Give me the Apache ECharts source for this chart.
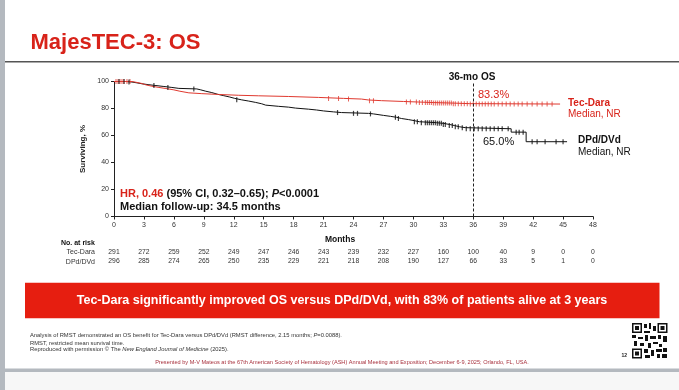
<!DOCTYPE html>
<html><head><meta charset="utf-8">
<script src="https://cdn.jsdelivr.net/npm/echarts@6/dist/echarts.min.js"></script>
<style>html,body{margin:0;padding:0;background:#fff}#c{width:679px;height:390px}</style>
</head><body><div id="c"></div>
<script>
// ---- data ----
const xTicks = [0,3,6,9,12,15,18,21,24,27,30,33,36,39,42,45,48];
const yTicks = [0,20,40,60,80,100];
const riskTecDara = [291,272,259,252,249,247,246,243,239,232,227,160,100,40,9,0,0];
const riskDPd = [296,285,274,265,250,235,229,221,218,208,190,127,66,33,5,1,0];
// KM step points [month, % surviving]
const kmTecDara = [[0,100],[1.8,99.3],[2.3,98.5],[2.8,97.5],[3.2,96.5],[3.8,95.6],[4.5,94.8],[5.2,93.8],[6,92.8],[6.6,91.6],[7.5,91.0],[8.8,90.4],[10.5,89.8],[12.5,89.4],[14.5,88.9],[17.5,88.2],[20.5,87.5],[23,87.0],[24.8,86.3],[25.5,85.8],[26.8,85.2],[29,84.8],[30.5,84.4],[32,84.0],[34,83.6],[35.6,83.3],[44.7,83.3]];
const kmDPd = [[0,100],[1.2,99.6],[1.8,99.0],[2.3,98.3],[2.8,97.6],[3.5,97.0],[4.2,96.3],[5,95.6],[5.8,94.9],[6.5,94.5],[8.3,93.8],[8.7,92.8],[9.2,91.8],[9.8,90.5],[10.4,89.5],[11,88.5],[11.6,87.5],[12.1,86.4],[12.8,85.5],[13.5,84.5],[14.2,83.5],[14.8,82.5],[15.2,81.6],[16.5,81.0],[17.5,80.3],[18.2,79.5],[19.5,78.9],[20.3,78.2],[21,77.5],[22,77.0],[22.8,76.4],[25.5,76.0],[26,74.9],[27,74.2],[27.7,73.5],[28.3,72.6],[28.8,71.8],[29.5,71.0],[30.1,70.2],[30.6,69.5],[32.3,69.0],[33.0,68.2],[33.6,67.4],[34.1,66.5],[34.6,65.8],[35.2,65.0],[39.8,62.5],[41.3,55.4],[45.4,55.4]];
// censoring times (months)
const censorTecDara = [0.2,0.4,0.6,0.8,1.0,1.3,1.6,21.5,22.5,23.5,25.6,26.0,29.3,29.7,30.3,30.6,30.9,31.2,31.4,31.6,31.8,32.0,32.2,32.4,32.6,32.8,33.0,33.2,33.4,33.6,33.8,34.0,34.2,34.5,34.8,35.1,35.4,35.7,36.0,36.3,36.6,36.9,37.2,37.5,37.8,38.1,38.5,38.9,39.3,39.7,40.1,40.5,40.9,41.4,41.9,42.4,42.9,43.4,43.9];
const censorDPd = [0.5,1.0,1.5,4.0,5.4,8.0,12.3,22.4,24.0,24.4,25.7,28.2,28.5,30.1,30.4,30.8,31.2,31.4,31.6,31.8,32.0,32.2,32.4,32.6,32.8,33.0,33.2,33.6,33.9,34.2,34.5,34.9,35.3,35.7,36.1,36.5,36.9,37.3,37.7,38.1,38.5,38.9,39.5,40.3,40.6,41.0,41.9,42.4,43.2,44.3,45.0];

// ---- helpers ----
function survAt(curve, t){ let v = curve[0][1]; for (const p of curve){ if (p[0] <= t) v = p[1]; } return v; }
const F = 'Liberation Sans, Arial, sans-serif';
const RED = '#d8231a', LINE_RED = '#e0392f', BLACK = '#111';

const chart = echarts.init(document.getElementById('c'), null, {renderer:'canvas'});
function riskAxis(arr, offset){
  return {type:'value', gridIndex:0, position:'bottom', offset:offset, min:0, max:48, interval:3,
    axisLine:{show:false}, axisTick:{show:false}, splitLine:{show:false},
    axisLabel:{margin:0, fontSize:6.8, color:'#333', fontFamily:F, formatter:v=>String(arr[Math.round(v/3)])}};
}
const option = {
  animation:false,
  backgroundColor:'#ffffff',
  grid:{left:114, right:86, top:81.5, bottom:173.5},
  xAxis:[
    {type:'value', min:0, max:48, interval:3,
     axisLine:{show:true, lineStyle:{color:'#222', width:1}},
     axisTick:{show:true, length:3, lineStyle:{color:'#222'}},
     splitLine:{show:false},
     axisLabel:{margin:5, fontSize:7, color:'#333', fontFamily:F}},
    riskAxis(riskTecDara, 32),
    riskAxis(riskDPd, 41.5)
  ],
  yAxis:{type:'value', min:0, max:100, interval:20,
     axisLine:{show:true, lineStyle:{color:'#222', width:1}},
     axisTick:{show:true, length:3, lineStyle:{color:'#222'}},
     splitLine:{show:false},
     axisLabel:{margin:5, fontSize:7, color:'#333', fontFamily:F},
     name:'Surviving, %', nameLocation:'middle', nameGap:22, nameRotate:90,
     nameTextStyle:{fontSize:8, fontWeight:'bold', color:'#222', fontFamily:F}},
  series:[
    {type:'line', step:'end', data:kmTecDara, showSymbol:false, symbol:'none',
     lineStyle:{color:LINE_RED, width:1}, z:3,
     markLine:{silent:true, symbol:['none','none'], label:{show:false},
       lineStyle:{type:[3,2], color:'#222', width:1}, data:[{xAxis:36}]}},
    {type:'line', step:'end', data:kmDPd, showSymbol:false, symbol:'none',
     lineStyle:{color:BLACK, width:1}, z:2},
    {type:'scatter', data:censorTecDara.map(t=>[t, survAt(kmTecDara,t)]), symbol:'rect', symbolSize:[1,5],
     itemStyle:{color:LINE_RED}, z:4},
    {type:'scatter', data:censorDPd.map(t=>[t, survAt(kmDPd,t)]), symbol:'rect', symbolSize:[1.2,5],
     itemStyle:{color:BLACK}, z:4}
  ],
  graphic:[
    // frame
    {type:'rect', shape:{x:0,y:0,width:5,height:390}, style:{fill:'#b4b9bf'}, z:100},
    {type:'rect', shape:{x:0,y:368.5,width:679,height:3.5}, style:{fill:'#b4b9bf'}, z:100},
    {type:'rect', shape:{x:5,y:372,width:674,height:18}, style:{fill:'#f7f7f7'}, z:99},
    // title
    {type:'text', x:30.5, y:43, style:{text:'MajesTEC-3: OS', fill:RED, font:'bold 22px '+F, verticalAlign:'middle'}},
    {type:'rect', shape:{x:5,y:61,width:674,height:1.6}, style:{fill:'#555'}},
    // annotations
    {type:'text', x:472, y:77, style:{text:'36-mo OS', fill:'#111', font:'bold 10px '+F, align:'center', verticalAlign:'middle'}},
    {type:'text', x:478, y:95, style:{text:'83.3%', fill:RED, font:'11px '+F, verticalAlign:'middle'}},
    {type:'text', x:483, y:141.5, style:{text:'65.0%', fill:'#111', font:'11px '+F, verticalAlign:'middle'}},
    {type:'text', x:568, y:103, style:{text:'Tec-Dara', fill:RED, font:'bold 10px '+F, verticalAlign:'middle'}},
    {type:'text', x:568, y:114.5, style:{text:'Median, NR', fill:RED, font:'10px '+F, verticalAlign:'middle'}},
    {type:'text', x:578, y:140.5, style:{text:'DPd/DVd', fill:'#111', font:'bold 10px '+F, verticalAlign:'middle'}},
    {type:'text', x:578, y:152, style:{text:'Median, NR', fill:'#111', font:'10px '+F, verticalAlign:'middle'}},
    {type:'text', x:120, y:194, style:{text:'{r|HR, 0.46} (95% CI, 0.32\u20130.65); {i|P}<0.0001',
      fill:'#111', font:'bold 11px '+F, verticalAlign:'middle',
      rich:{r:{fill:RED, font:'bold 11px '+F}, i:{fill:'#111', font:'italic bold 11px '+F}}}},
    {type:'text', x:120, y:207, style:{text:'Median follow-up: 34.5 months', fill:'#111', font:'bold 11px '+F, verticalAlign:'middle'}},
    {type:'text', x:340, y:239.5, style:{text:'Months', fill:'#111', font:'bold 8.5px '+F, align:'center', verticalAlign:'middle'}},
    // at risk table labels
    {type:'text', x:61, y:243.5, style:{text:'No. at risk', fill:'#111', font:'bold 7px '+F, verticalAlign:'middle'}},
    {type:'text', x:95, y:252.5, style:{text:'Tec-Dara', fill:'#333', font:'7px '+F, align:'right', verticalAlign:'middle'}},
    {type:'text', x:95, y:262, style:{text:'DPd/DVd', fill:'#333', font:'7px '+F, align:'right', verticalAlign:'middle'}},
    // banner
    {type:'rect', shape:{x:25,y:282.7,width:634.5,height:35.6}, style:{fill:'#e61e10'}},
    {type:'text', x:342, y:301, style:{text:'Tec-Dara significantly improved OS versus DPd/DVd, with 83% of patients alive at 3 years',
      fill:'#fff', font:'bold 12.5px '+F, align:'center', verticalAlign:'middle'}},
    // footnotes
    {type:'text', x:30, y:335.8, style:{text:'Analysis of RMST demonstrated an OS benefit for Tec-Dara versus DPd/DVd (RMST difference, 2.15 months; {i|P}=0.0088).',
      fill:'#333', font:'5.8px '+F, verticalAlign:'middle', rich:{i:{font:'italic 5.8px '+F, fill:'#333'}}}},
    {type:'text', x:30, y:343.2, style:{text:'RMST, restricted mean survival time.', fill:'#333', font:'5.8px '+F, verticalAlign:'middle'}},
    {type:'text', x:30, y:349.8, style:{text:'Reproduced with permission \u00a9 The {i|New England Journal of Medicine} (2025).',
      fill:'#333', font:'5.8px '+F, verticalAlign:'middle', rich:{i:{font:'italic 5.8px '+F, fill:'#333'}}}},
    {type:'text', x:342, y:362.7, style:{text:'Presented by M-V Mateos at the 67th American Society of Hematology (ASH) Annual Meeting and Exposition; December 6-9, 2025; Orlando, FL, USA.',
      fill:'#a8323e', font:'5.6px '+F, align:'center', verticalAlign:'middle'}},
    {type:'text', x:621.5, y:356, style:{text:'12', fill:'#222', font:'bold 5px '+F, verticalAlign:'middle'}},
    // QR-like block
    {type:'group', x:632, y:323, children:[
      {type:'rect', shape:{x:0,y:0,width:10,height:10}, style:{fill:'#111'}},
      {type:'rect', shape:{x:1.5,y:1.5,width:7,height:7}, style:{fill:'#fff'}},
      {type:'rect', shape:{x:3,y:3,width:4,height:4}, style:{fill:'#111'}},
      {type:'rect', shape:{x:25.5,y:0,width:10,height:10}, style:{fill:'#111'}},
      {type:'rect', shape:{x:27,y:1.5,width:7,height:7}, style:{fill:'#fff'}},
      {type:'rect', shape:{x:28.5,y:3,width:4,height:4}, style:{fill:'#111'}},
      {type:'rect', shape:{x:0,y:25.5,width:10,height:10}, style:{fill:'#111'}},
      {type:'rect', shape:{x:1.5,y:27,width:7,height:7}, style:{fill:'#fff'}},
      {type:'rect', shape:{x:3,y:28.5,width:4,height:4}, style:{fill:'#111'}},
      {type:'rect', shape:{x:12,y:1,width:3,height:4}, style:{fill:'#111'}},
      {type:'rect', shape:{x:17,y:0,width:2,height:6}, style:{fill:'#111'}},
      {type:'rect', shape:{x:21,y:3,width:3,height:5}, style:{fill:'#111'}},
      {type:'rect', shape:{x:12,y:8,width:6,height:2}, style:{fill:'#111'}},
      {type:'rect', shape:{x:0,y:12,width:4,height:3}, style:{fill:'#111'}},
      {type:'rect', shape:{x:6,y:14,width:5,height:2}, style:{fill:'#111'}},
      {type:'rect', shape:{x:13,y:12,width:3,height:6}, style:{fill:'#111'}},
      {type:'rect', shape:{x:18,y:13,width:6,height:3}, style:{fill:'#111'}},
      {type:'rect', shape:{x:26,y:12,width:3,height:4}, style:{fill:'#111'}},
      {type:'rect', shape:{x:31,y:13,width:4,height:6}, style:{fill:'#111'}},
      {type:'rect', shape:{x:2,y:18,width:3,height:5}, style:{fill:'#111'}},
      {type:'rect', shape:{x:8,y:20,width:4,height:3}, style:{fill:'#111'}},
      {type:'rect', shape:{x:16,y:20,width:3,height:5}, style:{fill:'#111'}},
      {type:'rect', shape:{x:21,y:19,width:5,height:2}, style:{fill:'#111'}},
      {type:'rect', shape:{x:27,y:21,width:3,height:3}, style:{fill:'#111'}},
      {type:'rect', shape:{x:12,y:26,width:4,height:4}, style:{fill:'#111'}},
      {type:'rect', shape:{x:19,y:27,width:3,height:6}, style:{fill:'#111'}},
      {type:'rect', shape:{x:24,y:26,width:6,height:3}, style:{fill:'#111'}},
      {type:'rect', shape:{x:31,y:25,width:4,height:4}, style:{fill:'#111'}},
      {type:'rect', shape:{x:13,y:32,width:5,height:3}, style:{fill:'#111'}},
      {type:'rect', shape:{x:25,y:31,width:3,height:4}, style:{fill:'#111'}},
      {type:'rect', shape:{x:30,y:31,width:5,height:4}, style:{fill:'#111'}}
    ]}
  ]
};
chart.setOption(option);
</script></body></html>
